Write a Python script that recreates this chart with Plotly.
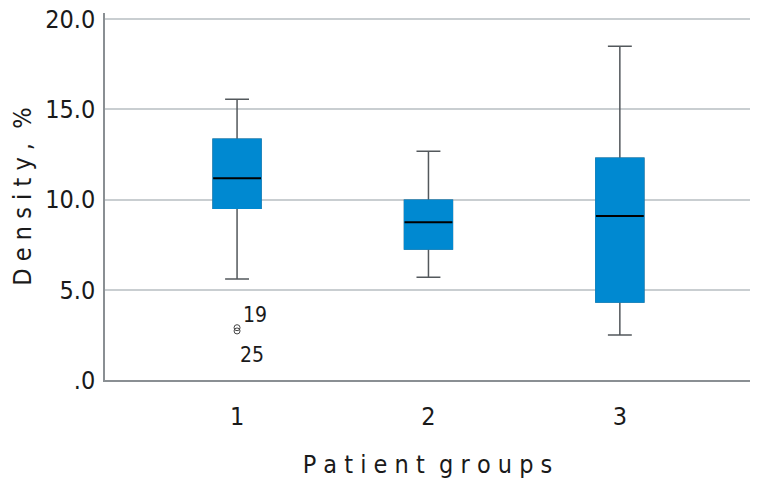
import plotly.graph_objects as go

groups = [1, 2, 3]
group_labels = ["1", "2", "3"]
q1 = [9.53, 7.26, 4.32]
median = [11.19, 8.75, 9.09]
q3 = [13.35, 9.97, 12.30]
lower = [5.60, 5.70, 2.49]
upper = [15.57, 12.69, 18.50]

outlier_x = [1, 1]
outlier_y = [2.90, 2.72]
outlier_labels = ["19", "25"]

y_ticks = [0, 5, 10, 15, 20]
y_tick_labels = [".0", "5.0", "10.0", "15.0", "20.0"]

BLUE = "#0089D1"
FONT = "DejaVu Sans Condensed, sans-serif"
BW = 0.25
FS = 25

fig = go.Figure()
fig.add_trace(go.Box(x=groups, q1=q1, median=median, q3=q3,
                     lowerfence=lower, upperfence=upper,
                     width=BW, whiskerwidth=0.5, fillcolor=BLUE,
                     line=dict(color="#53585c", width=1.5),
                     boxpoints=False, hoverinfo="skip", showlegend=False))
fig.add_trace(go.Box(x=groups, q1=q1, median=q1, q3=q3,
                     lowerfence=q1, upperfence=q3,
                     width=BW, whiskerwidth=0, fillcolor=BLUE,
                     line=dict(color=BLUE, width=1.5),
                     boxpoints=False, hoverinfo="skip", showlegend=False))
fig.add_trace(go.Box(x=groups, q1=median, median=median, q3=median,
                     lowerfence=median, upperfence=median,
                     width=BW, whiskerwidth=0, fillcolor="black",
                     line=dict(color="black", width=2),
                     boxpoints=False, hoverinfo="skip", showlegend=False))
fig.add_trace(go.Scatter(x=outlier_x, y=outlier_y, mode="markers",
                         marker=dict(symbol="circle-open", size=6, color="#444",
                                     line=dict(width=1)),
                         showlegend=False, hoverinfo="skip"))

label_shifts = [(4, 13), (1, -24)]
for xv, yv, lab, (dx, dy) in zip(outlier_x, outlier_y, outlier_labels, label_shifts):
    fig.add_annotation(x=xv, y=yv, xref="x", yref="y", text=lab,
                       showarrow=False, xanchor="left", yanchor="middle",
                       xshift=dx, yshift=dy,
                       font=dict(family=FONT, size=21, color="#1a1a1a"))

NB = "\u00a0"

def spaced(s):
    words = s.split(" ")
    return (NB * 2).join(NB.join(list(w)) for w in words)

fig.update_layout(
    width=759, height=485,
    margin=dict(l=97, r=17, t=5, b=113),
    plot_bgcolor="white", paper_bgcolor="white",
    font=dict(family=FONT, size=FS, color="#1a1a1a"),
    xaxis=dict(range=[0.31, 3.68], tickvals=groups, ticktext=group_labels,
               showgrid=False, zeroline=False, showline=True,
               linecolor="#8a8f93", linewidth=1.5, ticks="",
               automargin=False, ticklabelstandoff=13,
               tickfont=dict(size=FS),
               title=dict(text=spaced("Patient groups"), standoff=26,
                          font=dict(size=FS))),
    yaxis=dict(range=[0, 20.35], tickvals=y_ticks, ticktext=y_tick_labels,
               showgrid=True, gridcolor="#c9ced1", gridwidth=1.5,
               zeroline=False, showline=True, linecolor="#8a8f93",
               linewidth=1.5, ticks="", automargin=False,
               ticklabelstandoff=3, ticklabeloverflow="allow",
               tickfont=dict(size=FS),
               title=dict(text=spaced("Density, %"), standoff=17,
                          font=dict(size=FS))),
)

fig.write_html("out.html")
